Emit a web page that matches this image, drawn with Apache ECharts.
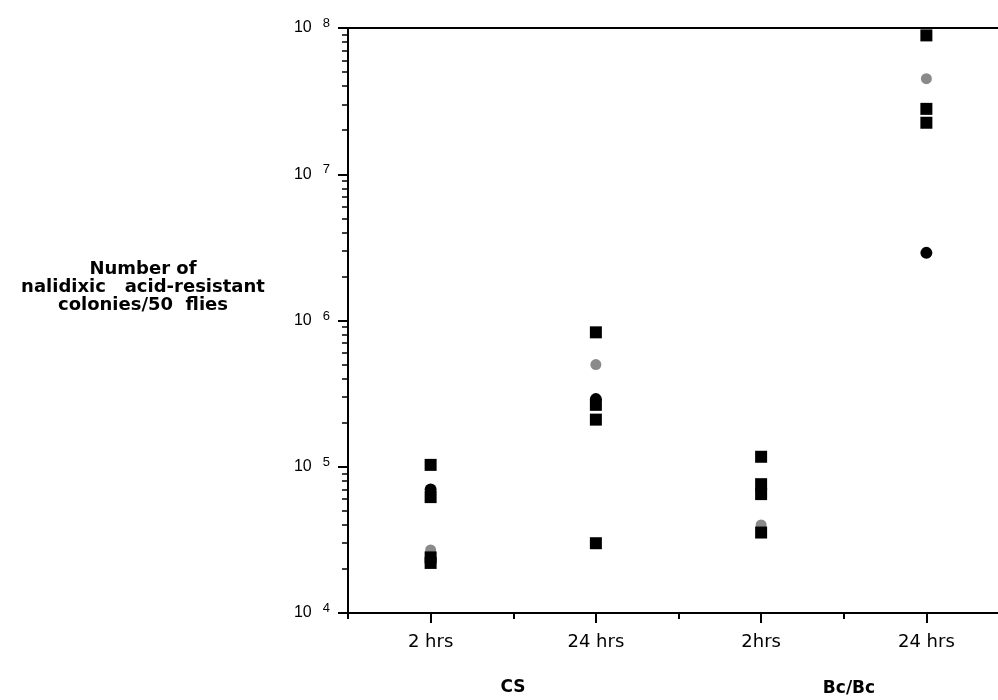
<!DOCTYPE html>
<html>
<head>
<meta charset="utf-8">
<script src="https://cdn.jsdelivr.net/npm/echarts@6/dist/echarts.min.js"></script>
<style>
html,body{margin:0;padding:0;background:#fff;}
#chart{width:998px;height:700px;}
</style>
</head>
<body>
<div id="chart"></div>
<script>
// ---- data ----
const categories = ['2 hrs', '24 hrs', '2hrs', '24 hrs'];
const groupLabels = ['CS', 'Bc/Bc'];
const yTitle = 'Number of\nnalidixic   acid-resistant\ncolonies/50  flies';
// [category index, colonies]
const squareValues = [
  [0, 103000], [0, 62000], [0, 24000], [0, 22000],
  [1, 830000], [1, 265000], [1, 210000], [1, 30000],
  [2, 117000], [2, 76000], [2, 65000], [2, 35500],
  [3, 89000000], [3, 28000000], [3, 22500000]
];
const circleValues = [
  [0, 70000], [1, 290000], [3, 2900000]
];
const greyValues = [
  [0, 27000], [1, 500000], [2, 40000], [3, 45000000]
];
const yMin = 1e4, yMax = 1e8;

const chart = echarts.init(document.getElementById('chart'));
const gridTop = 28, gridBottom = 87;
const plotH = 700 - gridTop - gridBottom;

chart.setOption({
  animation: false,
  backgroundColor: '#fff',
  grid: {
    left: 348, right: -11, top: gridTop, bottom: gridBottom,
    outerBoundsMode: 'none', containLabel: false,
    show: true, borderColor: '#000', borderWidth: 2, backgroundColor: 'transparent'
  },
  xAxis: [
    {
      type: 'category', data: categories, position: 'bottom',
      boundaryGap: true,
      axisLine: { show: true, lineStyle: { color: '#000', width: 2 } },
      axisTick: { show: true, alignWithLabel: true, length: 10, lineStyle: { color: '#000', width: 2 } },
      axisLabel: { show: true, margin: 20, color: '#000', fontFamily: 'DejaVu Sans', fontSize: 18 },
      splitLine: { show: false }
    },
    {
      type: 'category', data: categories, position: 'top', offset: -plotH,
      boundaryGap: true,
      axisLine: { show: false },
      axisTick: { show: true, inside: true, alignWithLabel: false, length: 6, lineStyle: { color: '#000', width: 2 } },
      axisLabel: { show: false },
      splitLine: { show: false }
    }
  ],
  yAxis: {
    type: 'log', logBase: 10, min: yMin, max: yMax,
    axisLine: { show: true, lineStyle: { color: '#000', width: 2 } },
    axisTick: { show: true, length: 10, lineStyle: { color: '#000', width: 2 } },
    minorTick: { show: true, splitNumber: 9, length: 6, lineStyle: { color: '#000', width: 1.5 } },
    splitLine: { show: false },
    minorSplitLine: { show: false },
    axisLabel: {
      margin: 18, color: '#000', fontFamily: 'Liberation Sans', fontSize: 16,
      formatter: function (v) {
        const e = Math.round(Math.log10(v));
        return '{b|10}{e|' + e + '}';
      },
      rich: {
        b: { fontFamily: 'Liberation Sans', fontSize: 16, lineHeight: 22, verticalAlign: 'middle', color: '#000' },
        e: { fontFamily: 'Liberation Sans', fontSize: 13, lineHeight: 11, verticalAlign: 'top', padding: [0, 0, 0, 11], color: '#000' }
      }
    }
  },
  graphic: [
    {
      type: 'text', x: 143, y: 287,
      style: {
        text: yTitle, textAlign: 'center', textVerticalAlign: 'middle',
        font: 'bold 18px "DejaVu Sans"', lineHeight: 18, fill: '#000'
      }
    },
    {
      type: 'text', x: 513, y: 688,
      style: { text: groupLabels[0], textAlign: 'center', textVerticalAlign: 'middle', font: 'bold 17px "DejaVu Sans"', fill: '#000' }
    },
    {
      type: 'text', x: 849, y: 689,
      style: { text: groupLabels[1], textAlign: 'center', textVerticalAlign: 'middle', font: 'bold 17px "DejaVu Sans"', fill: '#000' }
    }
  ],
  series: [
    {
      type: 'scatter', name: 'grey', xAxisIndex: 0, data: greyValues,
      symbol: 'circle', symbolSize: 11, itemStyle: { color: '#8a8a8a', opacity: 1 }
    },
    {
      type: 'scatter', name: 'squares', xAxisIndex: 0, data: squareValues,
      symbol: 'rect', symbolSize: 12, itemStyle: { color: '#000', opacity: 1 }
    },
    {
      type: 'scatter', name: 'circles', xAxisIndex: 0, data: circleValues,
      symbol: 'circle', symbolSize: 12, itemStyle: { color: '#000', opacity: 1 }
    }
  ]
});
</script>
</body>
</html>
